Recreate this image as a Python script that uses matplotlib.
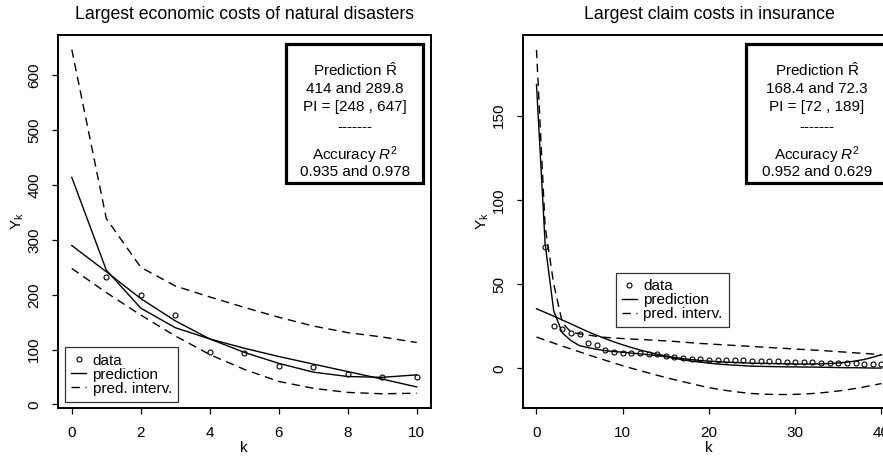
import matplotlib
matplotlib.use("Agg")
import matplotlib.pyplot as plt
from matplotlib.lines import Line2D
from matplotlib.patches import Rectangle

plt.rcParams['font.family'] = ['Liberation Sans', 'DejaVu Sans']
plt.rcParams['mathtext.fontset'] = 'custom'
plt.rcParams['mathtext.rm'] = 'Liberation Sans'
plt.rcParams['mathtext.it'] = 'Liberation Sans:italic'
plt.rcParams['mathtext.bf'] = 'Liberation Sans:bold'

# ---------------- Left panel: natural disasters ----------------
k_left = list(range(0, 11))
data_k_left = list(range(1, 11))
data_left = [233, 200, 164, 95.5, 94, 70.5, 68, 55.4, 50, 50]
predA_left = [414, 245, 175.6, 140, 119.5, 95, 75, 59, 51, 49.5, 54]
predB_left = [289.8, 242, 193, 152.5, 119.5, 102.5, 87.5, 73.6, 60, 46.3, 32]
upper_left = [647, 339, 250, 216, 196, 177, 159, 143, 131, 123, 113]
lower_left = [248, 204, 163, 125, 91, 64, 42, 29.5, 22, 19.5, 20.5]
xticks_left = [0, 2, 4, 6, 8, 10]
yticks_left = [0, 100, 200, 300, 400, 500, 600]
title_left = "Largest economic costs of natural disasters"
box_left = ["Prediction $\\hat{\\mathrm{R}}$", "414 and 289.8", "PI = [248 , 647]",
            "-------", "Accuracy $R^2$", "0.935 and 0.978"]

# ---------------- Right panel: insurance claims ----------------
k_right = list(range(0, 41))
data_k_right = list(range(1, 41))
data_right = [72.3, 25, 23.3, 21, 20.6, 15, 14, 11.2, 9.5, 9.3,
              9.0, 8.9, 8.8, 8.6, 7.5, 6.7, 6.2, 5.6, 5.3, 5.2,
              5.0, 4.9, 4.8, 4.7, 4.5, 4.3, 4.2, 4.1, 4.0, 3.8,
              3.6, 3.5, 3.4, 3.3, 3.2, 3.1, 3.0, 2.9, 2.8, 2.7]
predA_right = [168.4, 74, 34, 21, 16.5, 13.5, 12.3, 11.3, 10.5, 10.0,
               9.6, 9.1, 8.6, 8.1, 7.6, 6.9, 6.0, 5.1, 4.3, 3.7,
               3.1, 2.6, 2.2, 1.9, 1.6, 1.3, 1.2, 1.1, 1.0, 0.9,
               0.9, 0.8, 0.8, 0.7, 0.6, 0.5, 0.4, 0.4, 0.3, 0.2, 0.2]
predB_right = [35.4, 33.2, 31.0, 28.7, 26.4, 24.0, 21.7, 19.6, 17.6, 15.7,
               14.0, 12.4, 10.9, 9.6, 8.4, 7.4, 6.5, 5.8, 5.2, 4.7,
               4.3, 4.0, 3.7, 3.5, 3.3, 3.1, 3.0, 2.9, 2.8, 2.7,
               2.6, 2.6, 2.6, 2.7, 2.9, 3.2, 3.7, 4.4, 5.3, 6.6, 8.1]
upper_right = [189, 84, 50, 27, 21.5, 20.5, 19.8, 19.0, 18.4, 18.0,
               17.7, 17.4, 17.2, 16.9, 16.6, 16.3, 16.0, 15.6, 15.2, 14.8,
               14.5, 14.2, 13.9, 13.6, 13.3, 13.0, 12.7, 12.4, 12.1, 11.8,
               11.5, 11.2, 10.9, 10.6, 10.3, 9.9, 9.6, 9.2, 8.9, 8.5, 8.1]
lower_right = [18.6, 16.8, 15.0, 13.2, 11.5, 9.8, 8.1, 6.4, 4.8, 3.2,
               1.6, 0.1, -1.3, -2.7, -4.1, -5.4, -6.7, -7.9, -9.1, -10.3,
               -11.4, -12.3, -13.1, -13.8, -14.4, -14.9, -15.2, -15.4, -15.5, -15.5,
               -15.4, -15.2, -14.9, -14.5, -14.0, -13.4, -12.7, -11.9, -11.0, -10.0, -9.0]
xticks_right = [0, 10, 20, 30, 40]
yticks_right = [0, 50, 100, 150]
title_right = "Largest claim costs in insurance"
box_right = ["Prediction $\\hat{\\mathrm{R}}$", "168.4 and 72.3", "PI = [72 , 189]",
             "-------", "Accuracy $R^2$", "0.952 and 0.629"]

legend_labels = ["data", "prediction", "pred. interv."]

W, H = 883, 459
fig = plt.figure(figsize=(W / 100, H / 100), dpi=100)

ax_w = 372.5 / W
ax_h = 372.5 / H
ax_b = (H - 407.5) / H
axL = fig.add_axes([58 / W, ax_b, ax_w, ax_h])
axR = fig.add_axes([522.7 / W, ax_b, ax_w, ax_h])

FS = 11
LW = 1.0
DASH = (6, 4)


def draw(ax, k, dk, data, pa, pb, up, lo, xlim, ylim, xt, yt, title, box, box_x, leg_xy):
    ax.plot(k, pa, color='black', lw=LW)
    ax.plot(k, pb, color='black', lw=LW)
    ax.plot(k, up, color='black', lw=LW, linestyle=(0, DASH))
    ax.plot(k, lo, color='black', lw=LW, linestyle=(0, DASH))
    ax.plot(dk, data, linestyle='none', marker='o', markersize=3.6,
            markerfacecolor='none', markeredgecolor='black', markeredgewidth=0.8)
    ax.set_xlim(*xlim)
    ax.set_ylim(*ylim)
    ax.set_xticks(xt)
    ax.set_xticklabels([str(v) for v in xt], fontsize=FS)
    ax.set_yticks(yt)
    ax.set_yticklabels([str(v) for v in yt], fontsize=FS, rotation=90, va='center')
    ax.tick_params(direction='out', length=4, width=0.9)
    ax.tick_params(axis='x', pad=9)
    ax.tick_params(axis='y', pad=8)
    for s in ax.spines.values():
        s.set_linewidth(1.4)
    ax.set_title(title, fontsize=12.7, y=1 + 20.5 / 372.5, va='center', pad=0)
    ax.set_xlabel('k', fontsize=FS)
    ax.xaxis.set_label_coords(0.5, -41 / 372.5)
    ax.xaxis.label.set_va('center')
    ax.set_ylabel('Y$_{\\mathrm{k}}$', fontsize=FS)
    ax.yaxis.set_label_coords(-40 / 372.5, 0.5)
    ax.yaxis.label.set_va('center')

    # statistics box
    x0, x1 = box_x
    rect = Rectangle((x0, 0.602), x1 - x0, 0.975 - 0.602, transform=ax.transAxes,
                     facecolor='white', edgecolor='black', linewidth=2.3,
                     clip_on=False, zorder=5)
    ax.add_patch(rect)
    cx = (x0 + x1) / 2
    ys = [0.8899, 0.8451, 0.7960, 0.7423, 0.6644, 0.6215]
    for t, y in zip(box, ys):
        ax.text(cx, y, t, transform=ax.transAxes, ha='center', va='baseline',
                fontsize=FS, zorder=6)

    handles = [
        Line2D([], [], linestyle='none', marker='o', markersize=3.6,
               markerfacecolor='none', markeredgecolor='black', markeredgewidth=0.8),
        Line2D([], [], color='black', lw=LW),
        Line2D([], [], color='black', lw=LW, linestyle=(0, DASH)),
    ]
    leg = ax.legend(handles, legend_labels, loc='lower left', bbox_to_anchor=leg_xy,
                    borderaxespad=0, fontsize=FS, frameon=True, fancybox=False,
                    handlelength=1.0, handletextpad=0.4, labelspacing=0.0,
                    borderpad=0.4)
    leg.get_frame().set_edgecolor('black')
    leg.get_frame().set_linewidth(0.9)


draw(axL, k_left, data_k_left, data_left, predA_left, predB_left, upper_left, lower_left,
     (-0.4, 10.4), (-5.5, 673.5), xticks_left, yticks_left, title_left, box_left,
     (0.612, 0.981), (0.0188, 0.0156))
draw(axR, k_right, data_k_right, data_right, predA_right, predB_right, upper_right, lower_right,
     (-1.6, 41.6), (-23.2, 197.8), xticks_right, yticks_right, title_right, box_right,
     (0.5995, 0.979), (0.2497, 0.2153))

fig.savefig('out.png', dpi=100)
